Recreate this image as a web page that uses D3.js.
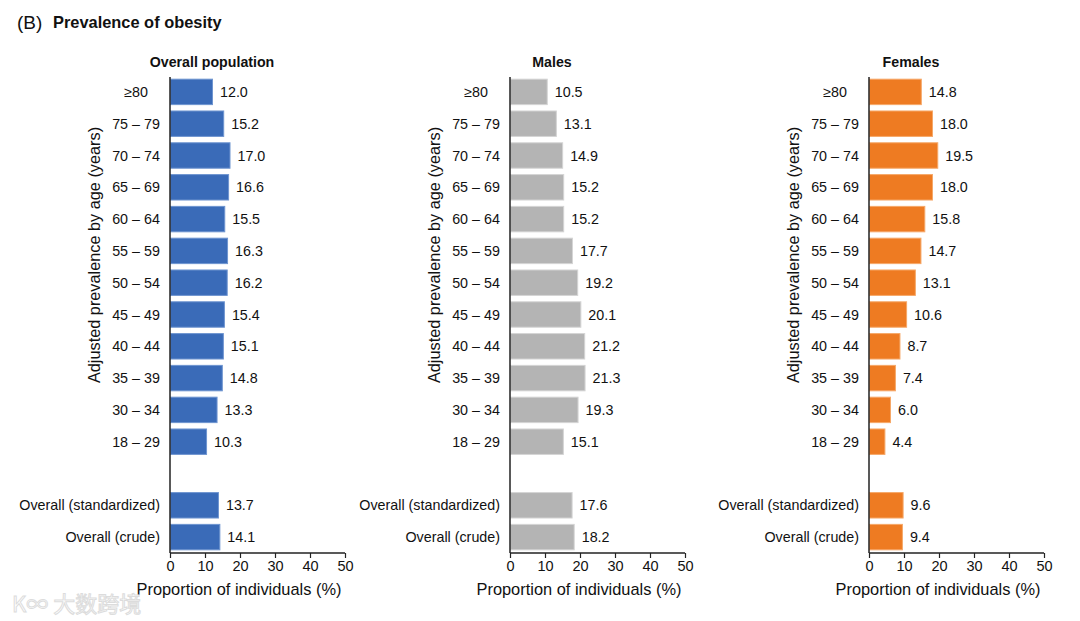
<!DOCTYPE html>
<html>
<head>
<meta charset="utf-8">
<script src="https://cdn.jsdelivr.net/npm/d3@7"></script>
<style>
  body { margin: 0; background: #fff; }
  svg text { font-family: "Liberation Sans", Arial, sans-serif; fill: #111; }
</style>
</head>
<body>
<div id="chart"></div>
<script>
// Age groups, top to bottom
const ageGroups = ["≥80", "75 – 79", "70 – 74", "65 – 69", "60 – 64", "55 – 59",
                   "50 – 54", "45 – 49", "40 – 44", "35 – 39", "30 – 34", "18 – 29"];
const summaryGroups = ["Overall (standardized)", "Overall (crude)"];

const overallAge = [12.0, 15.2, 17.0, 16.6, 15.5, 16.3, 16.2, 15.4, 15.1, 14.8, 13.3, 10.3];
const overallSummary = [13.7, 14.1];
const malesAge = [10.5, 13.1, 14.9, 15.2, 15.2, 17.7, 19.2, 20.1, 21.2, 21.3, 19.3, 15.1];
const malesSummary = [17.6, 18.2];
const femalesAge = [14.8, 18.0, 19.5, 18.0, 15.8, 14.7, 13.1, 10.6, 8.7, 7.4, 6.0, 4.4];
const femalesSummary = [9.6, 9.4];

const xTicks = [0, 10, 20, 30, 40, 50];

const panels = [
  {title: "Overall population", age: overallAge, summary: overallSummary, color: "#3a6bb8", stroke: "#6f95d0", x0: 170},
  {title: "Males", age: malesAge, summary: malesSummary, color: "#b4b4b4", stroke: "#d4d4d4", x0: 510},
  {title: "Females", age: femalesAge, summary: femalesSummary, color: "#ee7b22", stroke: "#f6a868", x0: 869}
];

const width = 1080, height = 621;
const svg = d3.select('#chart').append('svg')
    .attr('width', width)
    .attr('height', height);

// Header
svg.append('text').attr('x', 17).attr('y', 29)
    .style('font-size', '19px').text('(B)');
svg.append('text').attr('x', 53).attr('y', 28)
    .style('font-size', '16.4px').style('font-weight', 'bold')
    .text('Prevalence of obesity');

// 12 age slots, one blank slot, then two summary slots
const slots = ageGroups.concat(["__gap"], summaryGroups);
const y = d3.scaleBand()
    .domain(slots)
    .range([76, 553])
    .paddingInner(0.2)
    .paddingOuter(0.1);
const axisY = 553;

panels.forEach(p => {
    const x = d3.scaleLinear().domain([0, 50]).range([p.x0, p.x0 + 175]);
    const g = svg.append('g');

    const rows = ageGroups.map((a, i) => ({label: a, value: p.age[i], summary: false}))
        .concat(summaryGroups.map((s, i) => ({label: s, value: p.summary[i], summary: true})));

    // Bars
    g.selectAll('rect.bar')
        .data(rows)
        .enter().append('rect')
        .attr('class', 'bar')
        .attr('x', x(0) + 0.5)
        .attr('y', d => y(d.label))
        .attr('width', d => x(d.value) - x(0))
        .attr('height', y.bandwidth())
        .attr('fill', p.color)
        .attr('stroke', p.stroke)
        .attr('stroke-width', 1);

    // Value labels
    g.selectAll('text.val')
        .data(rows)
        .enter().append('text')
        .attr('class', 'val')
        .attr('x', d => x(d.value) + 8)
        .attr('y', d => y(d.label) + y.bandwidth() / 2)
        .attr('dy', '0.36em')
        .style('font-size', '14.3px')
        .text(d => d.value.toFixed(1));

    // Category labels
    g.selectAll('text.cat')
        .data(rows)
        .enter().append('text')
        .attr('class', 'cat')
        .attr('x', d => d.summary ? x(0) - 10 : x(0) - 34)
        .attr('y', d => y(d.label) + y.bandwidth() / 2)
        .attr('dy', '0.36em')
        .attr('text-anchor', d => d.summary ? 'end' : 'middle')
        .style('font-size', '14.3px')
        .text(d => d.label);

    // Vertical axis line
    g.append('line')
        .attr('x1', x(0)).attr('x2', x(0))
        .attr('y1', 77).attr('y2', axisY)
        .attr('stroke', '#222').attr('stroke-width', 1.5);

    // X axis
    const xAxis = d3.axisBottom(x).tickValues(xTicks).tickSize(5).tickPadding(3)
        .tickFormat(d3.format('d'));
    const ax = g.append('g')
        .attr('transform', `translate(0,${axisY})`)
        .call(xAxis);
    ax.select('.domain').attr('stroke', '#222').attr('stroke-width', 1.5)
        .attr('d', `M${x(0)},0H${x(50)}`);
    ax.selectAll('.tick line').attr('stroke', '#222').attr('stroke-width', 1.2);
    ax.selectAll('.tick text')
        .style('font-family', '"Liberation Sans", Arial, sans-serif')
        .style('font-size', '14.5px').attr('fill', '#111');

    g.append('text')
        .attr('x', x(0) + 69).attr('y', 595)
        .attr('text-anchor', 'middle')
        .style('font-size', '16.4px')
        .text('Proportion of individuals (%)');

    // Panel title
    g.append('text')
        .attr('x', x(0) + 42).attr('y', 67)
        .attr('text-anchor', 'middle')
        .style('font-size', '14.2px').style('font-weight', 'bold')
        .text(p.title);

    // Y axis title
    g.append('text')
        .attr('transform', `translate(${x(0) - 76},255) rotate(-90)`)
        .attr('text-anchor', 'middle')
        .attr('dy', '0.35em')
        .style('font-size', '16.3px')
        .text('Adjusted prevalence by age (years)');
});

// Faint watermark
svg.append('text').attr('x', 12).attr('y', 612)
    .style('font-family', '"Noto Sans CJK SC", sans-serif')
    .style('font-size', '22px')
    .style('fill', '#fff').attr('stroke', '#dcdcdc').attr('stroke-width', 1)
    .text('K∞ 大数跨境');
</script>
</body>
</html>
